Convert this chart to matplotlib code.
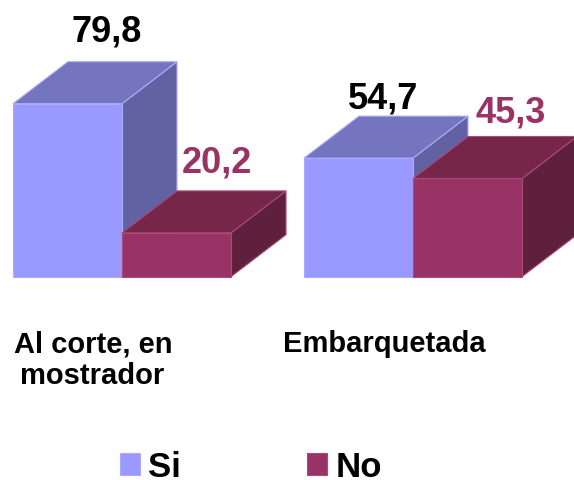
import matplotlib
matplotlib.use("Agg")
import matplotlib.pyplot as plt
from matplotlib.patches import Polygon, Patch

plt.rcParams["font.family"] = ["Liberation Sans", "DejaVu Sans"]

categories = ["Al corte, en\nmostrador", "Embarquetada"]
series = ["Si", "No"]
si_values = [79.8, 54.7]
no_values = [20.2, 45.3]
value_labels_si = ["79,8", "54,7"]
value_labels_no = ["20,2", "45,3"]

COLORS = {
    "Si": {"front": "#9999FF", "top": "#7575BF", "side": "#6262A2", "edge": "#AAAAFF"},
    "No": {"front": "#993366", "top": "#752649", "side": "#5F203E", "edge": "#A94A78"},
}
TEXT_NO = "#993366"

W, H = 574, 481
PX_X = 109.0   # pixels per bar width
PX_Y = 2.168   # pixels per value unit
BASE_Y = 277.7  # pixel row of value 0
DEPTH_X = 55 / PX_X
DEPTH_Y = 42 / PX_Y
GROUP_X = [0.0, 291 / PX_X]

# where each value label sits, relative to its group and its bar top
SI_LABEL_X = [0.862, 0.725]
SI_LABEL_UP = [9.9, 4.1]
NO_LABEL_X = [1.87, 1.90]
NO_LABEL_UP = [9.0, 6.9]

fig = plt.figure(figsize=(W / 100, H / 100), dpi=100, facecolor="white")
ax = fig.add_axes([0, 0, 1, 1])
ax.set_xlim(-13 / PX_X, (W - 13) / PX_X)
ax.set_ylim(-(H - BASE_Y) / PX_Y, BASE_Y / PX_Y)
ax.axis("off")


def caja(x, v, c, z):
    # cara frontal, superior y lateral de la barra 3D
    front = [(x, 0), (x + 1, 0), (x + 1, v), (x, v)]
    top = [(x, v), (x + 1, v), (x + 1 + DEPTH_X, v + DEPTH_Y), (x + DEPTH_X, v + DEPTH_Y)]
    side = [(x + 1, 0), (x + 1 + DEPTH_X, DEPTH_Y), (x + 1 + DEPTH_X, v + DEPTH_Y), (x + 1, v)]
    for pts, col in ((side, c["side"]), (top, c["top"]), (front, c["front"])):
        ax.add_patch(Polygon(pts, closed=True, facecolor=col, edgecolor=c["edge"], linewidth=0.8, zorder=z))


for i, gx in enumerate(GROUP_X):
    caja(gx, si_values[i], COLORS["Si"], 2)
    caja(gx + 1, no_values[i], COLORS["No"], 3)

    ax.text(gx + SI_LABEL_X[i], si_values[i] + DEPTH_Y + SI_LABEL_UP[i], value_labels_si[i], ha="center",
            va="baseline", fontsize=26, fontweight="bold", color="black", zorder=5)
    ax.text(gx + NO_LABEL_X[i], no_values[i] + DEPTH_Y + NO_LABEL_UP[i], value_labels_no[i], ha="center",
            va="baseline", fontsize=26, fontweight="bold", color=TEXT_NO, zorder=5)

ax.text(GROUP_X[0] + 0.01, -34.3, categories[0].split("\n")[0], ha="left", va="baseline",
        fontsize=21, fontweight="bold", color="black")
ax.text(GROUP_X[0] + 0.064, -49.1, categories[0].split("\n")[1], ha="left", va="baseline",
        fontsize=21, fontweight="bold", color="black")
ax.text(GROUP_X[1] - 0.19, -34.3, categories[1], ha="left", va="baseline",
        fontsize=21, fontweight="bold", color="black")

handles = [Patch(facecolor=COLORS[s]["front"], edgecolor=COLORS[s]["edge"], linewidth=0.8, label=s) for s in series]
leg = fig.legend(handles=handles, loc="center left", bbox_to_anchor=(120 / W, 1 - 468 / H), ncol=2,
                 frameon=False, borderpad=0, borderaxespad=0, handlelength=0.58, handleheight=0.58,
                 handletextpad=0.24, columnspacing=3.62,
                 prop={"size": 25, "weight": "bold"})

fig.savefig("out.png", dpi=100)
